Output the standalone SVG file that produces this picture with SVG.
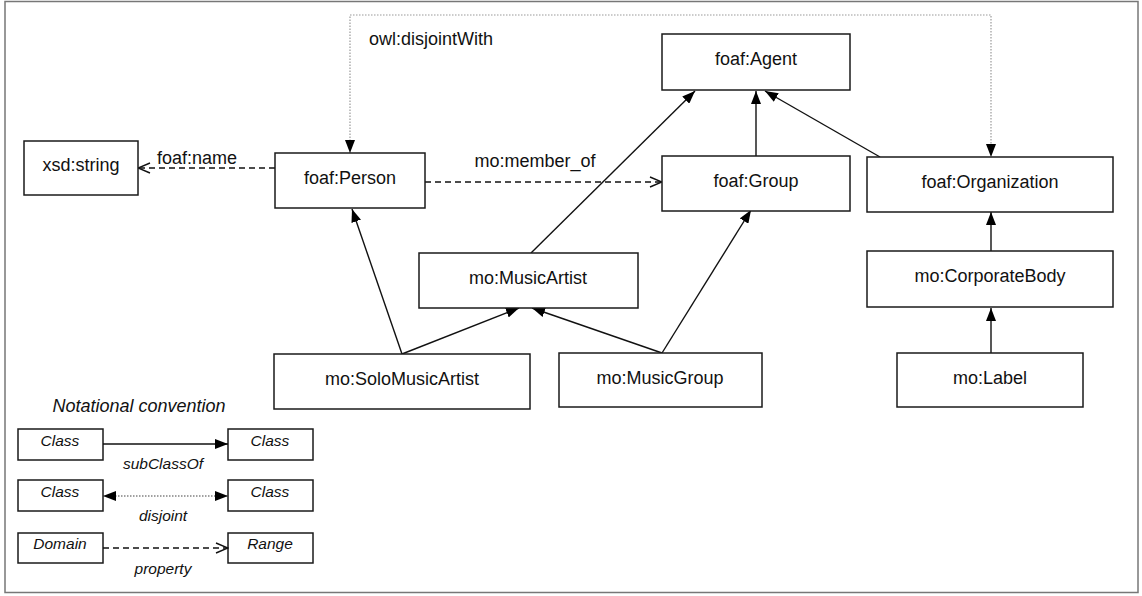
<svg xmlns="http://www.w3.org/2000/svg" width="1142" height="596" viewBox="0 0 1142 596">
<defs>
<style>
.box{fill:#fff;stroke:#1a1a1a;stroke-width:1.5}
.t{font-family:"Liberation Sans",Arial,sans-serif;font-size:18px;fill:#111;text-anchor:middle}
.lt{font-family:"Liberation Sans",Arial,sans-serif;font-size:15.5px;font-style:italic;fill:#111;text-anchor:middle}
.sub{fill:none;stroke:#111;stroke-width:1.4;marker-end:url(#fill)}
.prop{fill:none;stroke:#111;stroke-width:1.4;stroke-dasharray:6,4;marker-end:url(#open)}
.dis{fill:none;stroke:#999;stroke-width:1.2;stroke-dasharray:1.5,1.5;marker-end:url(#fill);marker-start:url(#fill)}
</style>
<marker id="fill" viewBox="0 0 13 10" refX="13" refY="5" markerWidth="13" markerHeight="10" markerUnits="userSpaceOnUse" orient="auto-start-reverse"><path d="M0,0 L13,5 L0,10 z" fill="#000"/></marker>
<marker id="open" viewBox="0 0 14 12" refX="13" refY="6" markerWidth="14" markerHeight="12" markerUnits="userSpaceOnUse" orient="auto"><path d="M1,1 L13,6 L1,11" fill="none" stroke="#111" stroke-width="1.4"/></marker>
</defs>
<rect x="0" y="0" width="1142" height="596" fill="#fff"/>
<rect x="5" y="1.5" width="1133" height="591" fill="none" stroke="#777" stroke-width="1.5"/>

<g id="connectors">
<path class="dis" d="M350,153 V15 H991 V157"/>
<path class="prop" d="M275,168 H138"/>
<path class="prop" d="M425,182 H662"/>
<path class="sub" d="M402,354 L352,209"/>
<path class="sub" d="M402,354 L519,308"/>
<path class="sub" d="M662,353 L532,308"/>
<path class="sub" d="M662,353 L751,210"/>
<path class="sub" d="M531,253 L695,91"/>
<path class="sub" d="M756,156 V91"/>
<path class="sub" d="M880,157 L765,91"/>
<path class="sub" d="M991,251 V212"/>
<path class="sub" d="M991,353 V308"/>
<text class="t" x="197" y="164">foaf:name</text>
<text class="t" x="535" y="167">mo:member_of</text>
<text class="t" x="431" y="45">owl:disjointWith</text>
</g>

<g id="xsd-string"><rect class="box" x="24" y="141" width="114" height="54"/><text class="t" x="81" y="171">xsd:string</text></g>
<g id="foaf-Person"><rect class="box" x="275" y="153" width="150" height="55"/><text class="t" x="350" y="184">foaf:Person</text></g>
<g id="foaf-Agent"><rect class="box" x="662" y="34" width="188" height="56"/><text class="t" x="756" y="65">foaf:Agent</text></g>
<g id="foaf-Group"><rect class="box" x="662" y="156" width="188" height="55"/><text class="t" x="756" y="187">foaf:Group</text></g>
<g id="foaf-Organization"><rect class="box" x="867" y="157" width="246" height="55"/><text class="t" x="990" y="188">foaf:Organization</text></g>
<g id="mo-MusicArtist"><rect class="box" x="419" y="253" width="219" height="55"/><text class="t" x="528" y="284">mo:MusicArtist</text></g>
<g id="mo-CorporateBody"><rect class="box" x="867" y="251" width="246" height="56"/><text class="t" x="990" y="282">mo:CorporateBody</text></g>
<g id="mo-SoloMusicArtist"><rect class="box" x="274" y="354" width="256" height="55"/><text class="t" x="402" y="385">mo:SoloMusicArtist</text></g>
<g id="mo-MusicGroup"><rect class="box" x="559" y="353" width="203" height="54"/><text class="t" x="660" y="384">mo:MusicGroup</text></g>
<g id="mo-Label"><rect class="box" x="897" y="353" width="186" height="54"/><text class="t" x="990" y="384">mo:Label</text></g>

<g id="legend">
<text class="lt" x="139" y="412" style="font-size:18px">Notational convention</text>
<rect class="box" x="18" y="429" width="85" height="31"/><text class="lt" x="60" y="446">Class</text>
<rect class="box" x="228" y="429" width="85" height="31"/><text class="lt" x="270" y="446">Class</text>
<path class="sub" d="M103,444 H228"/>
<text class="lt" x="163" y="469">subClassOf</text>
<rect class="box" x="18" y="480" width="85" height="31"/><text class="lt" x="60" y="497">Class</text>
<rect class="box" x="228" y="480" width="85" height="31"/><text class="lt" x="270" y="497">Class</text>
<path d="M103,496 H228" fill="none" stroke="#444" stroke-width="1.2" stroke-dasharray="1.5,1.5" marker-start="url(#fill)" marker-end="url(#fill)"/>
<text class="lt" x="163" y="521">disjoint</text>
<rect class="box" x="18" y="533" width="85" height="30"/><text class="lt" x="60" y="549">Domain</text>
<rect class="box" x="228" y="533" width="85" height="30"/><text class="lt" x="270" y="549">Range</text>
<path class="prop" d="M103,548 H228"/>
<text class="lt" x="163" y="574">property</text>
</g>
</svg>
